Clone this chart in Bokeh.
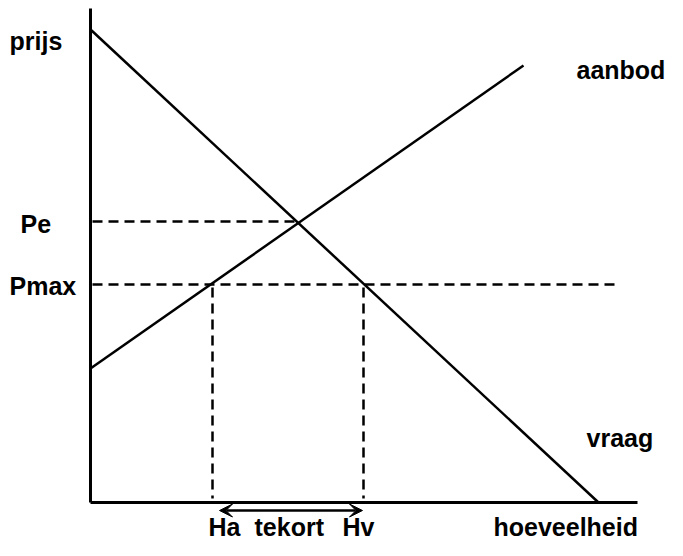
from bokeh.plotting import figure
from bokeh.models import Range1d, ColumnDataSource, Arrow, VeeHead
from bokeh.core.properties import value
from bokeh.embed import file_html
from bokeh.resources import INLINE

# --- data (quantity / price units, origin at the axes' corner) ---
demand_q = [0, 508]
demand_p = [473, 0]
supply_q = [0, 433]
supply_p = [134, 437]
Pe = 281
Qe = 208
Pmax = 218
Ha = 122
Hv = 273
axis_top = 494
axis_right = 547
pmax_end = 530

label_texts = ["prijs", "aanbod", "Pe", "Pmax", "vraag", "Ha", "tekort", "Hv", "hoeveelheid"]
label_x = [-81, 486, -70, -81, 496, 118, 164, 252, 403]
label_y = [462, 433, 279, 217, 65, -24, -24, -24, -24]

p = figure(width=667, height=540, output_backend="svg", toolbar_location=None,
           x_range=Range1d(-90, 577), y_range=Range1d(-38, 502),
           min_border=0, outline_line_color=None)
p.axis.visible = False
p.grid.visible = False
p.background_fill_color = "white"
p.border_fill_color = "white"

# axes
p.line([0, 0], [0, axis_top], line_color="black", line_width=3)
p.line([0, axis_right], [0, 0], line_color="black", line_width=3)

# demand and supply
p.line(demand_q, demand_p, line_color="black", line_width=2.5)
p.line(supply_q, supply_p, line_color="black", line_width=2.5)

# dashed guides
dash = "10 6"
p.line([2, Qe], [Pe, Pe], line_color="black", line_width=2.5, line_dash=dash)
p.line([2, pmax_end], [Pmax, Pmax], line_color="black", line_width=2.5, line_dash=dash)
p.line([Ha, Ha], [Pmax - 3, 4], line_color="black", line_width=2.5, line_dash=dash)
p.line([Hv, Hv], [Pmax - 3, 4], line_color="black", line_width=2.5, line_dash=dash)

# shortage arrow
p.add_layout(Arrow(x_start=Ha + 7, y_start=-8, x_end=Hv - 1, y_end=-8,
                   line_color="black", line_width=2.5,
                   start=VeeHead(size=13, fill_color="black", line_color="black", line_width=1),
                   end=VeeHead(size=13, fill_color="black", line_color="black", line_width=1)))

src = ColumnDataSource(dict(x=label_x, y=label_y, t=label_texts))
p.text(x="x", y="y", text="t", source=src, text_font=value("Liberation Sans"),
       text_font_style="bold", text_font_size="25px", text_color="black",
       text_align="left", text_baseline="alphabetic")

open("out.html", "w").write(file_html(p, INLINE))
